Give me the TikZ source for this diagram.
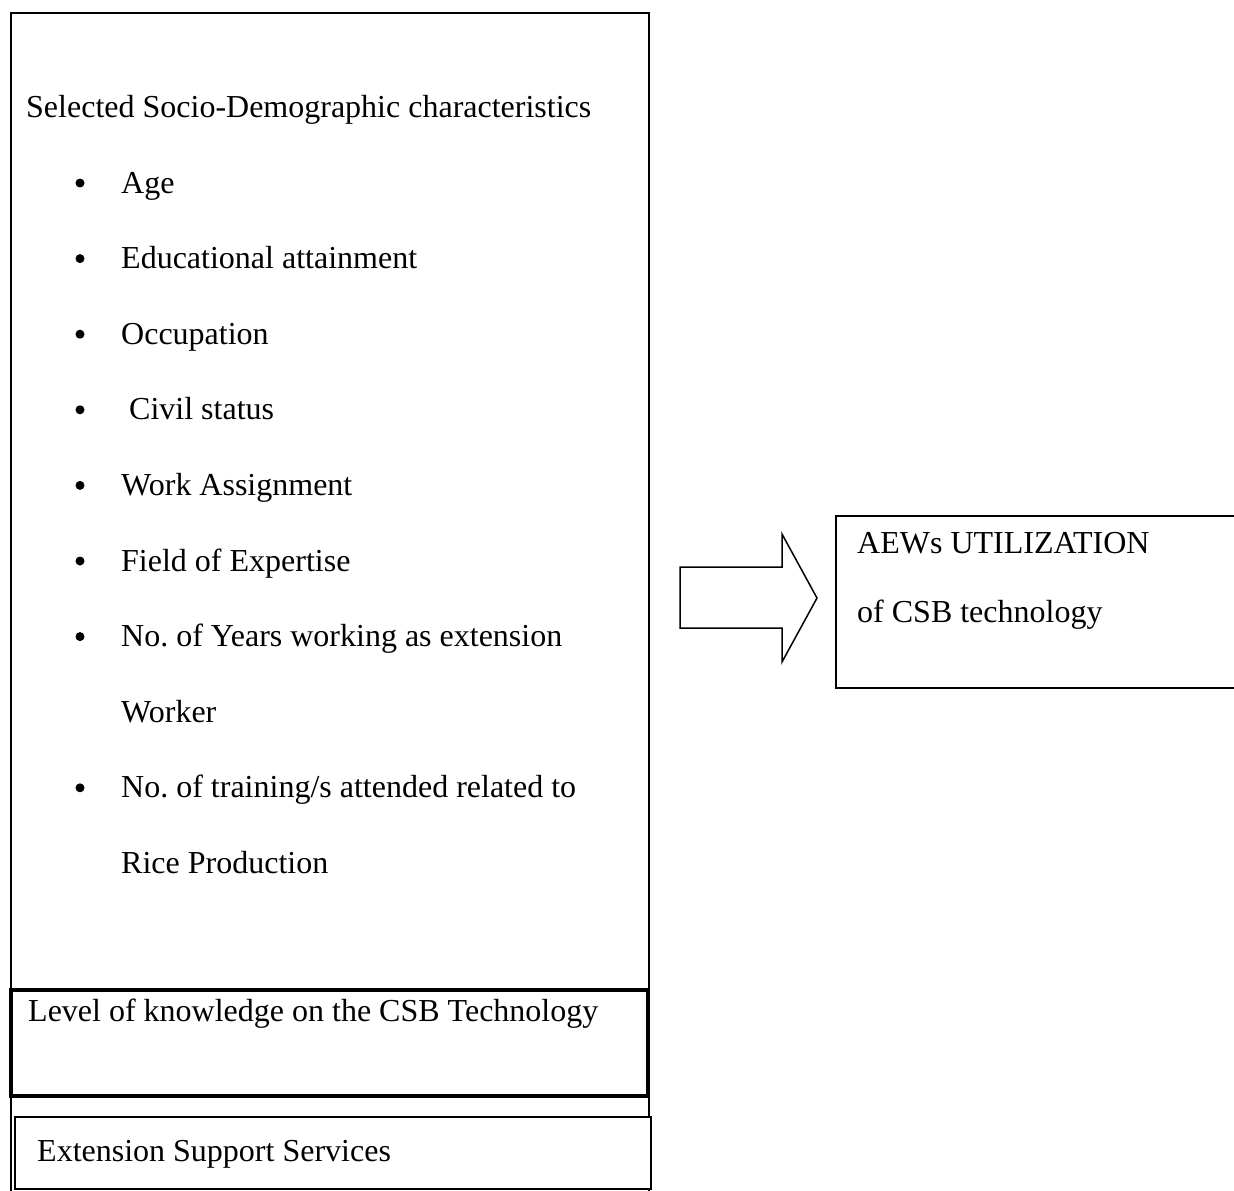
\documentclass[tikz,border=0pt]{standalone}
\usepackage{fontspec}
\setmainfont{Liberation Serif}
\frenchspacing
\begin{document}
\begin{tikzpicture}[x=1pt,y=-1pt,
  txt/.style={font=\fontsize{32}{38}\selectfont, inner sep=0pt, anchor=base west},
  bul/.style={circle, fill=black, inner sep=0pt, minimum size=9pt},
  box/.style={draw, rectangle, inner sep=0pt, outer sep=0pt}]
\useasboundingbox (0,0) rectangle (1234,1191);
% main box
\node[box, line width=2pt, minimum width=638pt, minimum height=1179pt] (main) at (330,602.5) {};
% knowledge box
\node[box, line width=4pt, minimum width=637pt, minimum height=106pt, fill=white] (know) at (329.5,1043) {};
% extension box
\node[box, line width=1.4pt, minimum width=636pt, minimum height=72pt, fill=white] (ext) at (333,1153) {};
% AEW box
\node[box, line width=1.6pt, minimum width=424pt, minimum height=172pt] (aew) at (1048,602) {};
% arrow
\draw[line width=1.5pt, line join=miter] (680,567) -- (782,567) -- (782,534) -- (817,598) -- (782,662) -- (782,628) -- (680,628) -- cycle;

\node[txt] (t0) at (26,117) {Selected Socio-Demographic characteristics};
\foreach \y/\n/\t in {183/b1/{Age}, 258.6/b2/{Educational attainment}, 334.2/b3/{Occupation}, 409.8/b4/{\ Civil status}, 485.4/b5/{Work Assignment}, 561/b6/{Field of Expertise}, 636.6/b7/{No. of Years working as extension}, 787.8/b8/{No. of training/s attended related to}}{
  \node[bul] (\n) at (80,\y) {};
  \node[txt] (\n t) at (121,\y+10) {\t};
}
\node[txt] (w1) at (121,722.2) {Worker};
\node[txt] (r1) at (121,873.4) {Rice Production};
\node[txt] (kt) at (28,1021) {Level of knowledge on the CSB Technology};
\node[txt] (et) at (37,1161) {Extension Support Services};
\node[txt] (a1) at (857,553) {AEWs UTILIZATION};
\node[txt] (a2) at (857,622) {of CSB technology};
\end{tikzpicture}
\end{document}
